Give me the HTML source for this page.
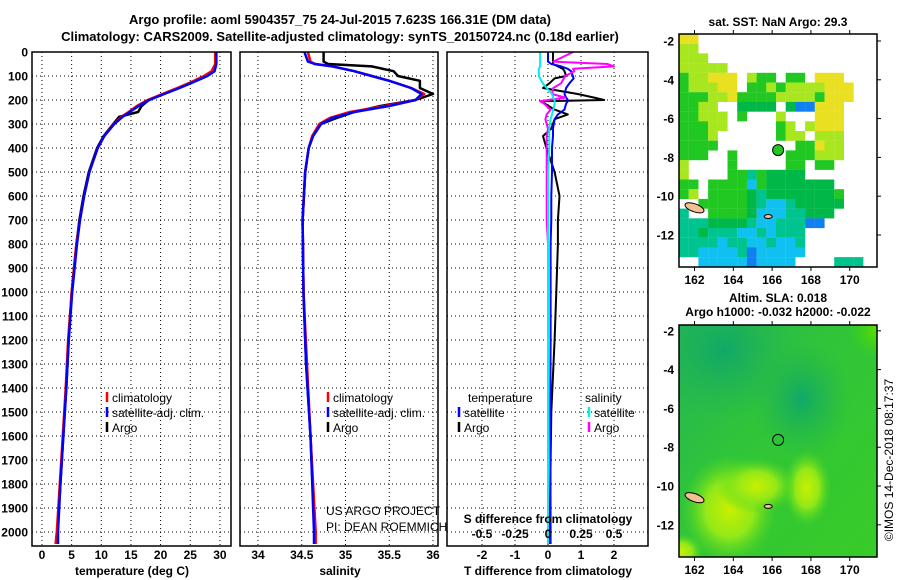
<!DOCTYPE html>
<html><head><meta charset="utf-8"><style>
body{margin:0;background:#fff}
svg{display:block;font-family:"Liberation Sans",Arial,sans-serif}
.tk{font-size:12px;font-weight:bold;fill:#000}
.ttl{font-size:13px;font-weight:bold;fill:#000}
.lg{font-size:12px;fill:#000}
</style></head><body>
<svg id="fig" width="900" height="580" viewBox="0 0 900 580">
<defs>
<clipPath id="clip1"><rect x="679" y="34" width="198" height="233"/></clipPath>
<clipPath id="clip2"><rect x="679" y="325" width="198" height="232"/></clipPath>
<linearGradient id="slabg" x1="0" y1="0" x2="1" y2="1"><stop offset="0" stop-color="#22b458"/><stop offset="0.4" stop-color="#30c43a"/><stop offset="1" stop-color="#38cc28"/></linearGradient>
<radialGradient id="blob"><stop offset="0" stop-color="#c8f000"/><stop offset="0.5" stop-color="#94e818"/><stop offset="1" stop-color="#50d820" stop-opacity="0"/></radialGradient>
<radialGradient id="dark"><stop offset="0" stop-color="#10a868"/><stop offset="1" stop-color="#20b450" stop-opacity="0"/></radialGradient>
<radialGradient id="tr"><stop offset="0" stop-color="#60e000"/><stop offset="1" stop-color="#40d800" stop-opacity="0"/></radialGradient>
</defs>
<text class="ttl" x="340" y="24" text-anchor="middle">Argo profile: aoml 5904357_75 24-Jul-2015 7.623S 166.31E (DM data)</text>
<text class="ttl" x="340" y="41" text-anchor="middle">Climatology: CARS2009. Satellite-adjusted climatology: synTS_20150724.nc (0.18d earlier)</text>
<g id="grid"></g>
<g id="lines"></g>
<g id="frames"></g>
<g id="labels"></g>
<g id="map1" clip-path="url(#clip1)"></g>
<g id="map2" clip-path="url(#clip2)"></g>
<g id="maps"></g>
</svg>
<script>
// ---- profile data ----
const depthTicks=[0,100,200,300,400,500,600,700,800,900,1000,1100,1200,1300,1400,1500,1600,1700,1800,1900,2000];
const tempTicks=[0,5,10,15,20,25,30];
const salTicks=[34,34.5,35,35.5,36];
const salTickLabels=["34","34.5","35","35.5","36"];
const tdTicks=[-2,-1,0,1,2];
const sdTicks=[-0.5,-0.25,0,0.25,0.5];
const sdTickLabels=["-0.5","-0.25","0","0.25","0.5"];

const depths=[0,50,80,100,125,150,175,200,225,250,270,300,350,400,500,600,700,800,1000,1200,1400,1600,1800,2000,2050];
const tempArgo=[29.4,29.4,29.0,27.8,25.5,23.0,20.5,18.0,16.8,16.2,13.0,12.0,10.4,9.3,7.9,7.0,6.3,5.8,5.0,4.5,4.1,3.6,3.1,2.6,2.5];
const tempClim=[29.2,29.2,28.6,27.3,25.2,22.8,20.3,17.8,16.0,14.6,13.4,12.1,10.5,9.4,8.0,7.1,6.4,5.8,5.0,4.4,4.0,3.5,3.0,2.5,2.3];
const tempSat=[29.4,29.4,29.1,27.9,25.6,23.2,20.6,18.1,16.3,14.8,13.6,12.2,10.5,9.4,8.0,7.1,6.4,5.9,5.1,4.5,4.1,3.6,3.1,2.7,2.7];

const salDepths=[0,40,50,60,80,100,120,150,175,200,225,250,275,300,350,400,500,700,1000,1300,1600,2000,2050];
const salArgo=[34.75,34.75,34.8,35.3,35.55,35.6,35.85,35.85,36.0,35.8,35.4,35.1,34.9,34.72,34.63,34.58,34.54,34.51,34.52,34.55,34.6,34.65,34.65];
const salClim=[34.57,34.6,34.65,34.85,35.1,35.3,35.5,35.75,35.9,35.8,35.45,35.05,34.82,34.7,34.62,34.58,34.54,34.51,34.52,34.56,34.6,34.66,34.66];
const salSat=[34.53,34.57,34.65,34.85,35.1,35.3,35.5,35.75,35.87,35.8,35.5,35.1,34.85,34.72,34.63,34.58,34.54,34.51,34.52,34.55,34.6,34.64,34.64];

const diffDepths=[0,40,50,60,70,80,100,110,130,150,175,190,200,205,215,240,260,280,320,350,400,500,600,700,800,1000,1200,1500,2000,2050];
const tdArgo=[0.15,0.15,0.15,0.3,0.45,0.5,0.55,0.2,0.05,-0.15,0.9,1.4,1.7,-0.2,-0.1,0.2,0.6,0.2,0.1,-0.15,-0.05,0.2,0.35,0.3,0.3,0.25,0.2,0.1,0.05,0.05];
const tdSat=[0,0,0.1,0.4,0.6,0.7,0.75,0.78,0.65,0.55,0.5,0.55,0.6,0.6,0.55,0.5,0.3,0.2,0.15,0.15,0.12,0.12,0.1,0.1,0.08,0.08,0.08,0.07,0.08,0.08];
const sdArgo=[0.19,0.04,0.45,0.5,0.19,0.2,0.13,0.12,0.1,0.04,0.03,0.13,0.0,-0.06,-0.03,0.02,-0.01,-0.02,0.0,-0.01,-0.01,-0.01,-0.01,-0.01,0,0,0,0,0,0];
const sdSat=[-0.06,-0.06,-0.06,-0.06,-0.07,-0.07,-0.07,-0.06,-0.04,-0.01,0.03,0.04,0.05,0.05,0.05,0.04,0.03,0.02,0.01,0.01,0.01,0,0,0,0,0,0,0,0,0];

// ---- map data ----
const lonTicks=[162,164,166,168,170];
const latTicks=[-2,-4,-6,-8,-10,-12];
const argoLon=166.31, argoLat=-7.623;
const sstRows=[
"yy..................",
"ll..................",
"lll.................",
"lllll...............",
"gllyyy.lgg.gg.yyy...",
"glllyy.gglgllllyyy..",
"gggllyggggllllgyyy..",
"ggll..dddd.dbbyyy...",
"gglll.g...l...yyy...",
"gggll.....gl.lyyy...",
"gggl......gll.lll...",
"gggg........ggyll...",
"ggg..g.....ggglll...",
"l....g.....gg.gg....",
"l....ggtgdddd.......",
"gg.ggggcgddddddd....",
"gl.ggggdtdddddddg...",
"..gggggdtcctddddd...",
"t..ggggdcccttddd....",
"tttddddtcctttbb.....",
"ttdtttcctcttt.......",
"ttttcttcctcct.......",
"ttcccctbccccc.......",
"..cccccbcccc....ttt."
];
const sstColors={y:"#e8e020",l:"#a8e620",g:"#22c822",d:"#00b848",t:"#00c490",c:"#10c0f0",b:"#1080f0"};

const NS="http://www.w3.org/2000/svg";
function mk(parent,tag,attrs){const e=document.createElementNS(NS,tag);for(const k in attrs)e.setAttribute(k,attrs[k]);document.getElementById(parent).appendChild(e);return e;}

const Y0=52, PY=0.24, YB=546;
const yD=d=>Y0+d*PY;
const xT=t=>42+t*5.93;
const xS=s=>258+(s-34)*87.5;
const xdT=v=>548+v*33;
const xdS=v=>548+v*132;
const panels=[{x0:32,x1:231},{x0:240,x1:438},{x0:447,x1:648}];

function vgrid(x){const l=mk('grid','line',{x1:x,x2:x,y1:Y0,y2:YB,stroke:'#000','stroke-width':1,'stroke-dasharray':'1,3'});

}
panels.forEach((p,i)=>{
  depthTicks.forEach(d=>{const l=mk('grid','line',{x1:p.x0,x2:p.x1,y1:yD(d),y2:yD(d),stroke:'#000','stroke-width':1,'stroke-dasharray':'1,3'});
  
  });
});
tempTicks.forEach(t=>vgrid(xT(t)));
salTicks.forEach(s=>vgrid(xS(s)));
tdTicks.forEach(t=>vgrid(xdT(t)));

function line(xs,ds,fx,color,name,w){
  const pts=xs.map((v,i)=>fx(v).toFixed(1)+','+yD(ds[i]).toFixed(1)).join(' ');
  const l=mk('lines','polyline',{points:pts,fill:'none',stroke:color,'stroke-width':w||2.5,'stroke-linejoin':'round'});
  
  
}
line(tempArgo,depths,xT,'#000','temp-argo-line');
line(tempClim,depths,xT,'#f00','temp-climatology-line');
line(tempSat,depths,xT,'#00f','temp-satellite-line');
line(salArgo,salDepths,xS,'#000','sal-argo-line');
line(salClim,salDepths,xS,'#f00','sal-climatology-line');
line(salSat,salDepths,xS,'#00f','sal-satellite-line');
line(tdArgo,diffDepths,xdT,'#000','tdiff-argo-line',2);
line(tdSat,diffDepths,xdT,'#00f','tdiff-satellite-line',2);
line(sdArgo,diffDepths,xdS,'#f0f','sdiff-argo-line',2);
line(sdSat,diffDepths,xdS,'#0ee','sdiff-satellite-line',2);

panels.forEach((p,i)=>{
  const r=mk('frames','rect',{x:p.x0,y:Y0,width:p.x1-p.x0,height:YB-Y0,fill:'none',stroke:'#000','stroke-width':1.5});
  
  
});
function txt(x,y,s,cls,anchor,name){const t=mk('labels','text',{x:x,y:y,class:cls,'text-anchor':anchor||'middle'});t.textContent=s;

return t;}
depthTicks.forEach(d=>txt(28,yD(d)+4.5,String(d),'tk','end','depth-tick-label'));
tempTicks.forEach(t=>txt(xT(t),559,String(t),'tk','middle','temp-tick-label'));
salTicks.forEach((s,i)=>txt(xS(s),559,salTickLabels[i],'tk','middle','sal-tick-label'));
tdTicks.forEach(t=>txt(xdT(t),559,String(t),'tk','middle','tdiff-tick-label'));
sdTicks.forEach((s,i)=>txt(xdS(s),538,sdTickLabels[i],'tk','middle','sdiff-tick-label'));
txt(132,575,'temperature (deg C)','tk','middle','x-axis-title-temperature');
txt(340,575,'salinity','tk','middle','x-axis-title-salinity');
txt(548,575,'T difference from climatology','tk','middle','x-axis-title-tdiff');
txt(548,523,'S difference from climatology','tk','middle','sdiff-axis-title');
txt(326,515,'US ARGO PROJECT','lg','start','credit-project');
txt(326,531,'PI: DEAN ROEMMICH','lg','start','credit-pi');

function legend(x,y,color,label,name){
  const m=mk('labels','line',{x1:x,x2:x,y1:y-10,y2:y,stroke:color,'stroke-width':2.5});
  
  
  txt(x+5,y,label,'lg','start',name);
}
legend(107,402,'#f00','climatology','legend-climatology');
legend(107,417,'#00f','satellite-adj. clim.','legend-satellite');
legend(107,432,'#000','Argo','legend-argo');
legend(328,402,'#f00','climatology','legend2-climatology');
legend(328,417,'#00f','satellite-adj. clim.','legend2-satellite');
legend(328,432,'#000','Argo','legend2-argo');
txt(468,402,'temperature','lg','start','legend3-temperature-header');
legend(459,417,'#00f','satellite','legend3-t-satellite');
legend(459,432,'#000','Argo','legend3-t-argo');
txt(585,402,'salinity','lg','start','legend3-salinity-header');
legend(589,417,'#0ee','satellite','legend3-s-satellite');
legend(589,432,'#f0f','Argo','legend3-s-argo');

// ---- maps ----
const MX0=679, MX1=877, LON0=161.2, PXD=19.4;
const mxL=lon=>MX0+(lon-LON0)*PXD;
const top1=34, lat01=-1.64;
const my1=lat=>top1+(lat01-lat)*PXD;
sstRows.forEach((row,j)=>{
  for(let i=0;i<row.length;i++){const c=row[i]; if(c==='.')continue;
    const x=mxL(LON0+i*0.5), y=my1(lat01-j*0.5);
    const r=mk('map1','rect',{x:x,y:y,width:9.8,height:9.8,fill:sstColors[c]});
    
    
  }
});
const top2=325, lat02=-1.7;
const my2=lat=>top2+(lat02-lat)*PXD;
const bg=mk('map2','rect',{x:MX0,y:top2,width:MX1-MX0,height:557-top2,fill:'url(#slabg)'});


[[163.5,-3,70,70,'dark'],[167.5,-5.5,50,60,'dark'],[163.8,-11.2,48,55,'blob'],[167.8,-10.1,24,38,'blob'],[171.5,-2,30,28,'tr'],[161.3,-13.4,22,18,'blob'],[165.2,-10,40,28,'blob']].forEach(b=>{
  const e=mk('map2','ellipse',{cx:mxL(b[0]),cy:my2(b[1]),rx:b[2],ry:b[3],fill:'url(#'+b[4]+')'});
  
  
});
[[my1,'map1'],[my2,'map2']].forEach(p=>{
  const cx=mxL(162.0), cy=p[0](-10.6);
  const e=mk(p[1],'ellipse',{cx:cx,cy:cy,rx:10,ry:4,fill:'#f4c090',stroke:'#000','stroke-width':1,transform:'rotate(20 '+cx+' '+cy+')'});
  
  
  const e2=mk(p[1],'ellipse',{cx:mxL(165.8),cy:p[0](-11.05),rx:4,ry:2,fill:'#f4c090',stroke:'#000','stroke-width':1});
  
  
});
const c1=mk('maps','circle',{cx:mxL(argoLon),cy:my1(argoLat),r:5.5,fill:'#22c822',stroke:'#000','stroke-width':1});


const c2=mk('maps','circle',{cx:mxL(argoLon),cy:my2(argoLat),r:5.5,fill:'none',stroke:'#000','stroke-width':1});


[[top1,267,my1],[top2,557,my2]].forEach((m,k)=>{
  const r=mk('maps','rect',{x:MX0,y:m[0],width:MX1-MX0,height:m[1]-m[0],fill:'none',stroke:'#000','stroke-width':1.5});
  
  
  lonTicks.forEach(l=>{
    const t=mk('maps','text',{x:mxL(l),y:m[1]+17,class:'tk','text-anchor':'middle'});t.textContent=String(l);
    
    
    [m[0],m[1]].forEach(yy=>{const tl=mk('maps','line',{x1:mxL(l),x2:mxL(l),y1:yy,y2:yy===m[0]?yy-4:yy+4,stroke:'#000'});
    
    });
  });
  latTicks.forEach(l=>{
    const y=m[2](l);
    const t=mk('maps','text',{x:MX0-5,y:y+4.5,class:'tk','text-anchor':'end'});t.textContent=String(l);
    
    
    const tl=mk('maps','line',{x1:MX1,x2:MX1+4,y1:y,y2:y,stroke:'#000'});
    
    
  });
});
function mtxt(x,y,s,name){const t=mk('maps','text',{x:x,y:y,class:'tk','text-anchor':'middle'});t.textContent=s;

}
mtxt(778,26,'sat. SST: NaN Argo: 29.3','sst-map-title');
mtxt(778,302,'Altim. SLA: 0.018','sla-map-title');
mtxt(778,316,'Argo h1000: -0.032 h2000: -0.022','sla-map-subtitle');
const cr=mk('maps','text',{x:0,y:0,class:'lg','text-anchor':'middle',transform:'translate(893,460) rotate(-90)'});
cr.textContent='©IMOS 14-Dec-2018 08:17:37';


</script>
</body></html>
